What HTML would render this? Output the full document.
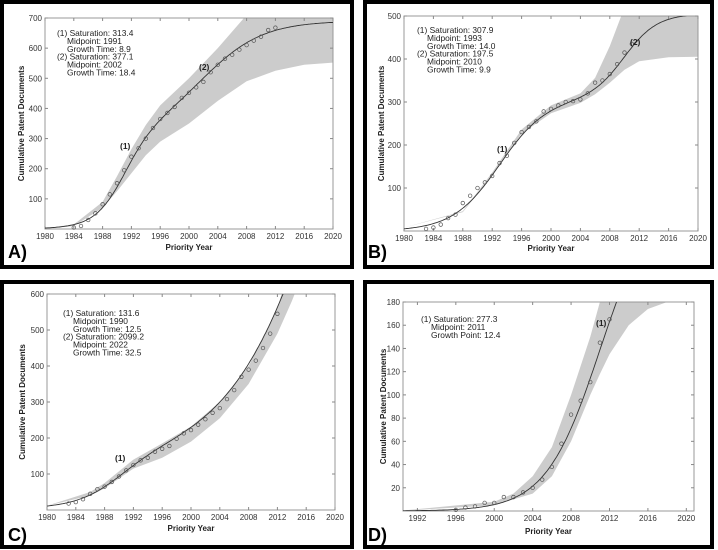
<!DOCTYPE html>
<html><head><meta charset="utf-8"><style>
body{margin:0;background:#fff;width:718px;height:550px;overflow:hidden}
svg{display:block;font-family:"Liberation Sans",Arial,sans-serif}
</style></head><body>
<svg id="fig" width="718" height="550" viewBox="0 0 718 550"></svg>
<script>
// ---- Panel A data ----
const aYears=[1984,1985,1986,1987,1988,1989,1990,1991,1992,1993,1994,1995,1996,1997,1998,1999,2000,2001,2002,2003,2004,2005,2006,2007,2008,2009,2010,2011,2012];
const aValues=[5,10,30,52,82,115,152,195,240,268,300,335,365,385,405,435,452,470,488,520,545,565,578,595,610,625,638,660,668];
const aBandYears=[1980,1984,1988,1990,1992,1994,1996,2000,2004,2008,2012,2016,2020];
const aBandUpper=[3,15,90,175,265,345,410,500,600,710,760,790,800];
const aBandLower=[0,10,70,125,185,245,290,350,425,490,525,545,552];
const aParams=[[313.4,1991,8.9],[377.1,2002,18.4]];
const aYTicks=[100,200,300,400,500,600,700];
const aXTicks=[1980,1984,1988,1992,1996,2000,2004,2008,2012,2016,2020];
// ---- Panel B data ----
const bYears=[1983,1984,1985,1986,1987,1988,1989,1990,1991,1992,1993,1994,1995,1996,1997,1998,1999,2000,2001,2002,2003,2004,2005,2006,2007,2008,2009,2010,2011];
const bValues=[5,8,15,30,38,65,82,100,113,128,158,175,205,230,242,255,278,284,292,300,302,306,320,345,350,365,388,415,435];
const bBandYears=[1980,1988,1992,1996,2000,2004,2006,2008,2010,2012,2016,2020];
const bBandUpper=[8,46,136,236,292,320,356,430,520,560,590,600];
const bBandLower=[8,44,128,226,274,298,318,345,375,395,404,405];
const bParams=[[307.9,1993,14.0],[197.5,2010,9.9]];
const bYTicks=[100,200,300,400,500];
const bXTicks=[1980,1984,1988,1992,1996,2000,2004,2008,2012,2016,2020];
// ---- Panel C data ----
const cYears=[1983,1984,1985,1986,1987,1988,1989,1990,1991,1992,1993,1994,1995,1996,1997,1998,1999,2000,2001,2002,2003,2004,2005,2006,2007,2008,2009,2010,2011,2012];
const cValues=[18,22,30,45,58,65,78,93,110,125,138,145,162,170,178,198,213,222,237,252,270,283,308,333,370,390,415,450,490,545];
const cBandYears=[1980,1986,1988,1992,1996,2000,2004,2008,2012,2014,2016];
const cBandUpper=[12,50,75,140,185,232,300,400,560,700,800];
const cBandLower=[12,40,60,115,145,190,255,350,490,580,680];
const cParams=[[131.6,1990,12.5],[2099.2,2022,32.5]];
const cYTicks=[100,200,300,400,500,600];
const cXTicks=[1980,1984,1988,1992,1996,2000,2004,2008,2012,2016,2020];
// ---- Panel D data ----
const dYears=[1996,1997,1998,1999,2000,2001,2002,2003,2004,2005,2006,2007,2008,2009,2010,2011,2012];
const dValues=[1,3,4,7,7,12,12,16,20,27,38,58,83,95,111,145,165];
const dBandYears=[1990,2000,2002,2004,2006,2008,2010,2011,2012,2014,2016,2018,2020];
const dBandUpper=[0,8,15,30,55,100,150,180,210,260,300,320,330];
const dBandLower=[0,5,10,15,30,60,100,118,135,160,174,180,183];
const dParams=[[277.3,2011,12.4]];
const dYTicks=[20,40,60,80,100,120,140,160,180];
const dXTicks=[1992,1996,2000,2004,2008,2012,2016,2020];

const NS='http://www.w3.org/2000/svg';
const svg=document.getElementById('fig');
function mk(tag,attrs,parent){const e=document.createElementNS(NS,tag);for(const k in attrs)e.setAttribute(k,attrs[k]);(parent||svg).appendChild(e);return e;}
function logi(params,t){let s=0;for(const p of params){const k=Math.log(81)/p[2];s+=p[0]/(1+Math.exp(-k*(t-p[1])));}return s;}

function panel(P){
  const g=mk('g',{});
  
  
  const box=mk('rect',{x:P.box[0],y:P.box[1],width:P.box[2],height:P.box[3],fill:'#fff',stroke:'#000','stroke-width':4},g);
  
  
  const [L,T,R,B]=P.plot;
  const xs=v=>L+(v-P.xd[0])/(P.xd[1]-P.xd[0])*(R-L);
  const ys=v=>B-(v-P.yd[0])/(P.yd[1]-P.yd[0])*(B-T);
  const cid='clip'+P.id;
  const cp=mk('clipPath',{id:cid},g);mk('rect',{x:L,y:T,width:R-L,height:B-T},cp);
  let d='';
  P.by.forEach((yr,i)=>{d+=(i?'L':'M')+xs(yr).toFixed(1)+','+ys(P.bu[i]).toFixed(1);});
  for(let i=P.by.length-1;i>=0;i--)d+='L'+xs(P.by[i]).toFixed(1)+','+ys(P.bl[i]).toFixed(1);
  const band=mk('path',{d:d+'Z',fill:'#cccccc','clip-path':'url(#'+cid+')'},g);
  
  
  const fr=mk('rect',{x:L,y:T,width:R-L,height:B-T,fill:'none',stroke:'#999','stroke-width':1},g);
  
  
  P.xt.forEach(v=>{
    const x=xs(v);
    mk('line',{x1:x,y1:B,x2:x,y2:B-3,stroke:'#888'},g);
    mk('line',{x1:x,y1:T,x2:x,y2:T+3,stroke:'#888'},g);
    const t=mk('text',{x:x,y:B+10,'font-size':8,'text-anchor':'middle',fill:'#333'},g);t.textContent=v;
    
    
  });
  P.yt.forEach(v=>{
    const y=ys(v);
    mk('line',{x1:L,y1:y,x2:L+3,y2:y,stroke:'#888'},g);
    mk('line',{x1:R,y1:y,x2:R-3,y2:y,stroke:'#888'},g);
    const t=mk('text',{x:L-3,y:y+3,'font-size':8,'text-anchor':'end',fill:'#333'},g);t.textContent=v;
    
    
  });
  let c='';
  for(let t=P.xd[0];t<=P.xd[1]+1e-6;t+=0.2){c+=(c?'L':'M')+xs(t).toFixed(1)+','+ys(logi(P.params,t)).toFixed(1);}
  const cv=mk('path',{d:c,fill:'none',stroke:'#333','stroke-width':0.9,'clip-path':'url(#'+cid+')'},g);
  
  
  P.yrs.forEach((yr,i)=>{
    const pt=mk('circle',{cx:xs(yr),cy:ys(P.vals[i]),r:1.8,fill:'none',stroke:'#555','stroke-width':0.7},g);
    
    
  });
  P.ann.forEach((s,i)=>{
    const ind=s.startsWith('(')?0:10;
    const t=mk('text',{x:P.annXY[0]+ind,y:P.annXY[1]+i*7.9,'font-size':8.4,fill:'#222'},g);t.textContent=s;
    
    
  });
  P.marks.forEach(m=>{
    const t=mk('text',{x:m[1],y:m[2],'font-size':8.5,'font-weight':'bold',fill:'#222'},g);t.textContent=m[0];
    
    
  });
  const xt=mk('text',{x:(L+R)/2,y:P.xTitleY,'font-size':8,'font-weight':'bold','text-anchor':'middle',fill:'#222'},g);xt.textContent='Priority Year';
  
  
  const yx=P.yTitleX,yy=(T+B)/2;
  const yt=mk('text',{x:yx,y:yy,'font-size':8,'font-weight':'bold','text-anchor':'middle',fill:'#222',transform:'rotate(-90 '+yx+' '+yy+')'},g);yt.textContent='Cumulative Patent Documents';
  
  
  const lt=mk('text',{x:P.letter[0],y:P.letter[1],'font-size':18,'font-weight':'bold',fill:'#000'},g);lt.textContent=P.id.toUpperCase()+')';
  
  
}

panel({id:'a',box:[2,2,350,265],plot:[45,18,333,229],xd:[1980,2020],yd:[0,700],
  by:aBandYears,bu:aBandUpper,bl:aBandLower,params:aParams,yrs:aYears,vals:aValues,xt:aXTicks,yt:aYTicks,
  ann:['(1) Saturation: 313.4','Midpoint: 1991','Growth Time: 8.9','(2) Saturation: 377.1','Midpoint: 2002','Growth Time: 18.4'],
  annXY:[57,36],marks:[['(1)',120,149],['(2)',199,70]],xTitleY:250,yTitleX:24,letter:[8,258]});
panel({id:'b',box:[365,2,347,265],plot:[404,16,698,231],xd:[1980,2020],yd:[0,500],
  by:bBandYears,bu:bBandUpper,bl:bBandLower,params:bParams,yrs:bYears,vals:bValues,xt:bXTicks,yt:bYTicks,
  ann:['(1) Saturation: 307.9','Midpoint: 1993','Growth Time: 14.0','(2) Saturation: 197.5','Midpoint: 2010','Growth Time: 9.9'],
  annXY:[417,33],marks:[['(1)',497,152],['(2)',630,45]],xTitleY:251,yTitleX:384,letter:[368,258]});
panel({id:'c',box:[2,282,350,265],plot:[47,294,335,510],xd:[1980,2020],yd:[0,600],
  by:cBandYears,bu:cBandUpper,bl:cBandLower,params:cParams,yrs:cYears,vals:cValues,xt:cXTicks,yt:cYTicks,
  ann:['(1) Saturation: 131.6','Midpoint: 1990','Growth Time: 12.5','(2) Saturation: 2099.2','Midpoint: 2022','Growth Time: 32.5'],
  annXY:[63,316],marks:[['(1)',115,461]],xTitleY:531,yTitleX:25,letter:[8,541]});
panel({id:'d',box:[365,282,347,265],plot:[403,302,694,511],xd:[1990.5,2020.8],yd:[0,180],
  by:dBandYears,bu:dBandUpper,bl:dBandLower,params:dParams,yrs:dYears,vals:dValues,xt:dXTicks,yt:dYTicks,
  ann:['(1) Saturation: 277.3','Midpoint: 2011','Growth Point: 12.4'],
  annXY:[421,322],marks:[['(1)',596,326]],xTitleY:534,yTitleX:386,letter:[368,541]});
</script>
</body></html>
